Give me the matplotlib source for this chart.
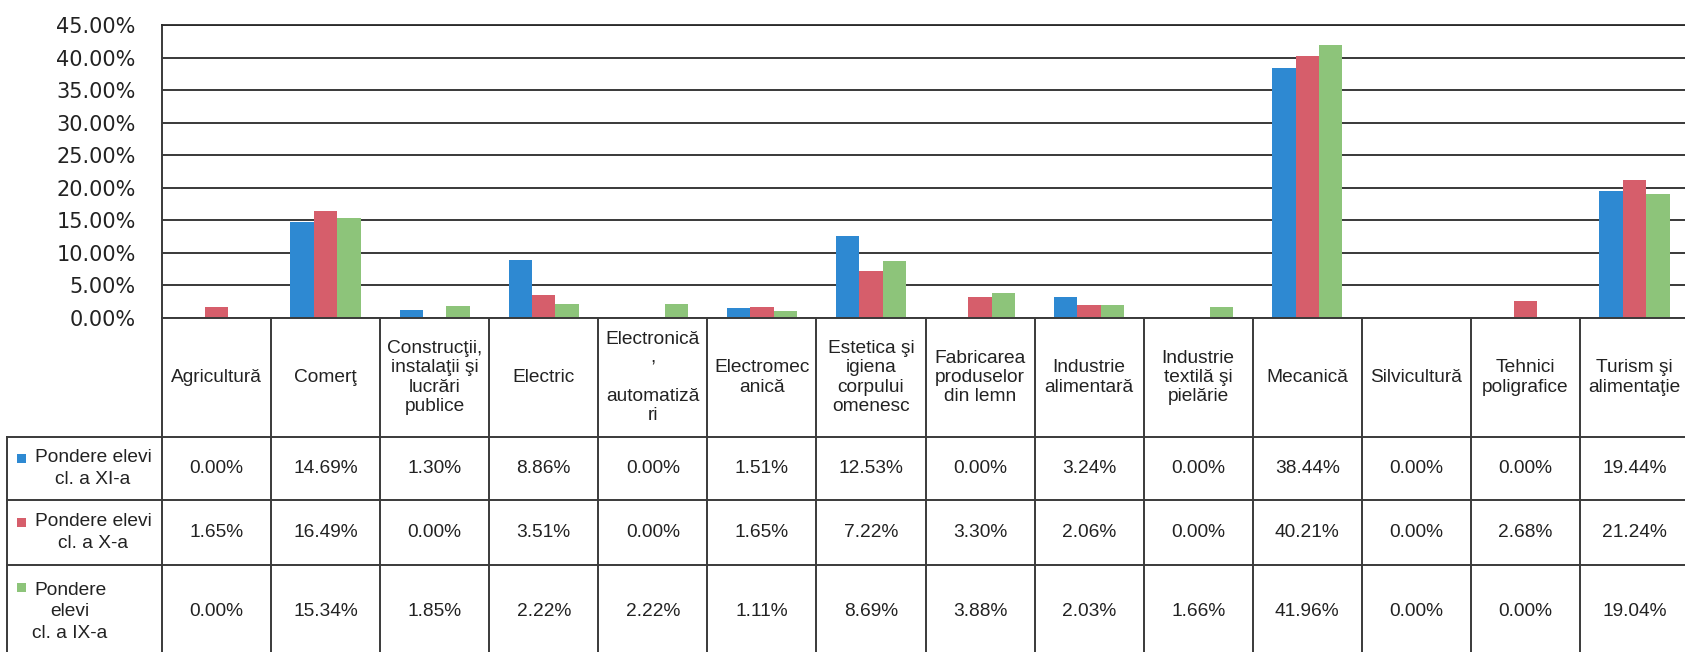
import matplotlib
matplotlib.use("Agg")
import matplotlib.pyplot as plt
from matplotlib.patches import Rectangle
import numpy as np

# categorii (antet tabel) si valori (%)
categories = ["Agricultură", "Comerţ", "Construcţii,\ninstalaţii şi\nlucrări\npublice",
              "Electric", "Electronică\n,\n\nautomatiză\nri", "Electromec\nanică",
              "Estetica şi\nigiena\ncorpului\nomenesc", "Fabricarea\nproduselor\ndin lemn",
              "Industrie\nalimentară", "Industrie\ntextilă şi\npielărie", "Mecanică",
              "Silvicultură", "Tehnici\npoligrafice", "Turism şi\nalimentaţie"]
cls_xi = [0.00, 14.69, 1.30, 8.86, 0.00, 1.51, 12.53, 0.00, 3.24, 0.00, 38.44, 0.00, 0.00, 19.44]
cls_x = [1.65, 16.49, 0.00, 3.51, 0.00, 1.65, 7.22, 3.30, 2.06, 0.00, 40.21, 0.00, 2.68, 21.24]
cls_ix = [0.00, 15.34, 1.85, 2.22, 2.22, 1.11, 8.69, 3.88, 2.03, 1.66, 41.96, 0.00, 0.00, 19.04]
series_labels = ["Pondere elevi\ncl. a XI-a", "Pondere elevi\ncl. a X-a", "Pondere\nelevi\ncl. a IX-a"]
yticks = [0, 5, 10, 15, 20, 25, 30, 35, 40, 45]

colors = ["#2E89D2", "#D65E6B", "#8DC47A"]
series = [cls_xi, cls_x, cls_ix]
W, H = 1685, 652
line_c = "#3a3a3a"
txt_c = "#222222"
tfont = "Liberation Sans"
fs = 13.8

fig = plt.figure(figsize=(W / 100, H / 100), dpi=100)

# --- grafic cu bare ---
x_left, x_right, y_top, y_zero = 162, 1689, 25, 318
ax = fig.add_axes([x_left / W, 1 - y_zero / H, (x_right - x_left) / W, (y_zero - y_top) / H])
x = np.arange(len(categories))
bw = 0.215
for i, (vals, col) in enumerate(zip(series, colors)):
    ax.bar(x + (i - 1) * bw, vals, width=bw, color=col, linewidth=0, zorder=3)
ax.set_xlim(-0.5, len(categories) - 0.5)
ax.set_ylim(0, 45)
ax.set_yticks(yticks)
ax.set_yticklabels([f"{v:.2f}%" for v in yticks], fontsize=15, color=txt_c, family="DejaVu Sans")
ax.tick_params(axis="y", length=0, pad=19)
ax.set_xticks([])
ax.yaxis.grid(True, color="#2a2a2a", linewidth=1.3)
ax.set_axisbelow(True)
for s in ["right", "bottom"]:
    ax.spines[s].set_visible(False)
ax.spines["left"].set_color(line_c)
ax.spines["left"].set_linewidth(1.4)
ax.spines["top"].set_color("#2a2a2a")
ax.spines["top"].set_linewidth(1.3)

# --- tabel de date ---
px_unit = (x_right - x_left) / len(categories)
leg_left = 7
t_bottom = 659
tx0 = -0.5 - (x_left - leg_left) / px_unit
tab = fig.add_axes([leg_left / W, 1 - t_bottom / H, (x_right - leg_left) / W, (t_bottom - y_zero) / H])
tab.set_xlim(tx0, len(categories) - 0.5)
tab.set_ylim(t_bottom - y_zero, 0)
tab.axis("off")

def px2x(px):
    return -0.5 + (px - x_left) / px_unit

rows = [0, 119, 182, 247, t_bottom - y_zero]
lw = 1.4
# linii verticale
for b in np.arange(len(categories) + 1) - 0.5:
    tab.plot([b, b], [rows[0], rows[-1]], color=line_c, lw=lw, clip_on=False)
tab.plot([tx0, tx0], [rows[1], rows[-1]], color=line_c, lw=lw, clip_on=False)
# linii orizontale
tab.plot([-0.5, len(categories) - 0.5], [0, 0], color=line_c, lw=lw, clip_on=False)
for r in rows[1:4]:
    tab.plot([tx0, len(categories) - 0.5], [r, r], color=line_c, lw=lw, clip_on=False)

# antet
for i, c in enumerate(categories):
    tab.text(i, (rows[0] + rows[1]) / 2, c, ha="center", va="center", multialignment="center",
             fontsize=fs, family=tfont, color=txt_c, linespacing=1.17)

# valori
for k, vals in enumerate(series):
    yc = (rows[k + 1] + rows[k + 2]) / 2
    for i, v in enumerate(vals):
        tab.text(i, yc, f"{v:.2f}%", ha="center", va="center",
                 fontsize=fs, family=tfont, color=txt_c)

# legenda in prima coloana
leg_cx = [93, 93, 70]
sq_y = [140, 204, 269]
for k, lab in enumerate(series_labels):
    yc = (rows[k + 1] + rows[k + 2]) / 2
    tab.text(px2x(leg_cx[k]), yc, lab, ha="center", va="center", multialignment="center",
             fontsize=fs, family=tfont, color=txt_c, linespacing=1.35)
    tab.add_patch(Rectangle((px2x(16.5), sq_y[k] - 4.5), 9 / px_unit, 9,
                            facecolor=colors[k], edgecolor="none"))

fig.savefig("out.png", dpi=100, facecolor="white")
